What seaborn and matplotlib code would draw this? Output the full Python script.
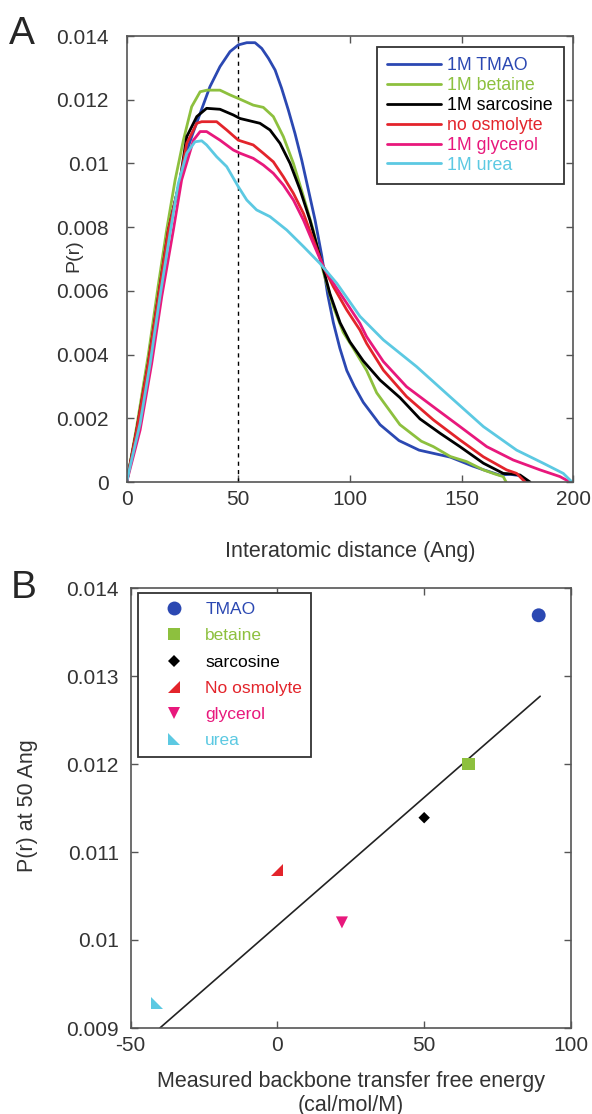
import numpy as np
import pandas as pd
import matplotlib
matplotlib.use("Agg")
import matplotlib.pyplot as plt
import seaborn as sns

# --- panel A: P(r) curves (x in Ang, y = P(r)) ---
tmao_r = [0, 4.5, 9.7, 14.2, 18.7, 23.9, 27.6, 29.1, 32.9, 37.3, 41.8, 46.3, 50, 53.8, 57.5, 60.5,
          63.5, 66.5, 69.4, 72.4, 75.4, 78.4, 81.4, 84.4, 87.4, 90, 92.6, 95.5, 98.6, 102, 106,
          113.5, 122, 131, 145, 155, 160, 167, 172, 176, 179]
tmao_p = [0, 0.00163, 0.00372, 0.00582, 0.00791, 0.00948, 0.01053, 0.01084, 0.01157, 0.01241,
          0.01304, 0.01351, 0.01372, 0.01379, 0.01379, 0.01361, 0.0133, 0.01293, 0.01236, 0.01168,
          0.01094, 0.01011, 0.00917, 0.00822, 0.0071, 0.0059, 0.0050, 0.0042, 0.0035, 0.0030,
          0.0025, 0.0018, 0.0013, 0.0010, 0.00078, 0.0005, 0.00038, 0.00022, 0.00024, 0.0002, 0]

betaine_r = [0, 4.5, 9.7, 14.2, 17.9, 21.7, 25.4, 29.1, 32.9, 36, 41.8, 46.3, 50, 56.7, 61.2, 65.7,
             70.2, 74.7, 79.2, 83.6, 88.1, 92.6, 97, 101.5, 107.5, 112, 122.4, 132, 137.4, 145,
             152.3, 159.8, 165, 168.7, 170]
betaine_p = [0, 0.00175, 0.0040, 0.0062, 0.00791, 0.00948, 0.01073, 0.01178, 0.01225, 0.0123,
             0.0123, 0.01215, 0.01204, 0.01183, 0.01176, 0.01147, 0.01084, 0.0100, 0.00896, 0.0079,
             0.0066, 0.0055, 0.0047, 0.0042, 0.0035, 0.0028, 0.00180, 0.00128, 0.00111, 0.0008,
             0.00064, 0.00038, 0.00025, 0.00017, 0]

sarcosine_r = [0, 4.5, 9.7, 14.2, 18.7, 23.9, 26.9, 31.4, 35.8, 41.8, 47.8, 50.8, 53.8, 59.7, 64.2,
               68.7, 73.2, 77.7, 82.1, 86.6, 91.1, 95.6, 100, 106, 113.5, 122.4, 131.4, 140.4,
               149.3, 159.8, 168.7, 173, 176.2, 180.7]
sarcosine_p = [0, 0.00163, 0.00372, 0.00582, 0.00791, 0.00948, 0.01084, 0.01147, 0.01173, 0.0117,
               0.01152, 0.01141, 0.01136, 0.01126, 0.01105, 0.01063, 0.0100, 0.00917, 0.00822,
               0.00707, 0.0059, 0.0050, 0.0044, 0.0038, 0.0032, 0.00265, 0.00198, 0.00153,
               0.00111, 0.00059, 0.00027, 0.00025, 0.00022, 0]

noosm_r = [0, 4.5, 9.7, 14.2, 18.7, 23.9, 26.9, 31.4, 33.6, 40.3, 44.8, 50, 56.7, 61.2, 65.7, 70.2,
           74.7, 79.2, 83.6, 88.1, 92.6, 98.6, 104.5, 107.5, 115, 125.4, 137.4, 149.3, 159.8,
           170.2, 174.7, 178.5]
noosm_p = [0, 0.00163, 0.00372, 0.00582, 0.00791, 0.00948, 0.01063, 0.01126, 0.01131, 0.01131,
           0.01105, 0.01073, 0.01058, 0.01032, 0.01005, 0.00958, 0.00906, 0.00843, 0.0076, 0.00676,
           0.00613, 0.0054, 0.00477, 0.00435, 0.00351, 0.00268, 0.00195, 0.00132, 0.00079,
           0.00038, 0.00027, 0]

glycerol_r = [0, 6, 11.2, 15.7, 20.9, 24.6, 29.9, 32.9, 35.8, 41.8, 47.8, 50.8, 56.7, 61.2, 65.7,
              70.2, 74.7, 79.2, 83.6, 88.1, 92.6, 98.6, 104.5, 107.5, 115, 125.4, 137.4, 149.3,
              161.3, 173.2, 185.2, 194.1, 198.6]
glycerol_p = [0, 0.00163, 0.00372, 0.00582, 0.00791, 0.00948, 0.01073, 0.011, 0.011, 0.01073,
              0.01042, 0.01032, 0.01016, 0.00995, 0.00969, 0.00932, 0.00885, 0.00822, 0.00749,
              0.00676, 0.00624, 0.00561, 0.00498, 0.00456, 0.00378, 0.00299, 0.00236, 0.00174,
              0.00111, 0.00069, 0.00038, 0.00017, 0]

urea_r = [0, 1.5, 6, 10.5, 14.9, 19.4, 23.1, 26.9, 30.6, 33.6, 35.8, 40.3, 44.8, 50, 53.8, 58.2,
          64.2, 71.7, 79.2, 86.6, 94.1, 104.5, 115, 129.9, 144.8, 159.8, 174.7, 186.6, 195.6, 199.5]
urea_p = [0, 0.00048, 0.00184, 0.00372, 0.00582, 0.0078, 0.00937, 0.01032, 0.01068, 0.01071,
          0.01058, 0.01021, 0.0099, 0.00927, 0.00885, 0.00854, 0.00833, 0.00791, 0.00739, 0.00686,
          0.00624, 0.0052, 0.00446, 0.00362, 0.00268, 0.00174, 0.001, 0.00059, 0.00027, 0]

curve_names = ["1M TMAO", "1M betaine", "1M sarcosine", "no osmolyte", "1M glycerol", "1M urea"]
curve_r = [tmao_r, betaine_r, sarcosine_r, noosm_r, glycerol_r, urea_r]
curve_p = [tmao_p, betaine_p, sarcosine_p, noosm_p, glycerol_p, urea_p]

# --- panel B: P(r) at 50 Ang vs transfer free energy ---
solvents = ["TMAO", "betaine", "sarcosine", "No osmolyte", "glycerol", "urea"]
transfer_energy = [89, 65, 50, 0, 22, -41]
p_at_50 = [0.01369, 0.0120, 0.01139, 0.01079, 0.0102, 0.00928]
fit_x = [-40, 89.5]
fit_y = [0.00900, 0.01277]

colors = ["#2b48b2", "#8dc03e", "#000000", "#e3242b", "#e8187c", "#5cc9e2"]

sns.set_style("white")
plt.rcParams['font.family'] = ['Liberation Sans', 'DejaVu Sans']
plt.rcParams['axes.unicode_minus'] = False
grey = "#555555"
txt = "#333333"

fig = plt.figure(figsize=(5.92, 11.14), dpi=100)
axA = fig.add_axes([126.7 / 592, 1 - 482 / 1114, 446.4 / 592, 446 / 1114])
axB = fig.add_axes([130.5 / 592, 1 - 1028 / 1114, 440.5 / 592, 440 / 1114])

# panel A
df = pd.concat([pd.DataFrame({"r": r, "P": p, "solvent": n})
                for n, r, p in zip(curve_names, curve_r, curve_p)], ignore_index=True)
axA.axvline(50, color="k", ls=(0, (3, 3)), lw=1.0, zorder=1)
sns.lineplot(data=df, x="r", y="P", hue="solvent", hue_order=curve_names,
             palette=dict(zip(curve_names, colors)), estimator=None, sort=False,
             lw=2.0, ax=axA)
axA.set_xlim(0, 200)
axA.set_ylim(0, 0.014)
axA.set_xticks([0, 50, 100, 150, 200])
axA.set_yticks(np.arange(0, 0.0141, 0.002))
axA.set_yticklabels(["0", "0.002", "0.004", "0.006", "0.008", "0.01", "0.012", "0.014"])
axA.set_xlabel("Interatomic distance (Ang)", fontsize=15.5, color=txt, labelpad=23)
axA.set_ylabel("P(r)", fontsize=14, color=txt)
axA.yaxis.set_label_coords(-0.1, 0.508)

h, l = axA.get_legend_handles_labels()
legA = axA.legend(h, l, loc="upper left", bbox_to_anchor=(0.56, 0.976), borderaxespad=0,
                  fontsize=12.8, frameon=True, fancybox=False, edgecolor="#333333",
                  framealpha=1, handlelength=3.0, handletextpad=0.37, labelspacing=0.16,
                  borderpad=0.6)
legA.get_frame().set_linewidth(1.3)
for t, c in zip(legA.get_texts(), colors):
    t.set_color(c)

# panel B
dfB = pd.DataFrame({"energy": transfer_energy, "P50": p_at_50, "solvent": solvents})
markers = {"TMAO": "o", "betaine": "s", "sarcosine": "D",
           "No osmolyte": [(-1, -1), (1, -1), (1, 1)], "glycerol": "v",
           "urea": [(-1, 1), (-1, -1), (1, -1)]}
sizes = {"TMAO": 100, "betaine": 85, "sarcosine": 34, "No osmolyte": 75, "glycerol": 75, "urea": 75}
sns.lineplot(x=fit_x, y=fit_y, color="#222222", lw=1.2, ax=axB)
sns.scatterplot(data=dfB, x="energy", y="P50", hue="solvent", style="solvent", size="solvent",
                hue_order=solvents, style_order=solvents, size_order=solvents,
                palette=dict(zip(solvents, colors)), markers=markers, sizes=sizes,
                linewidth=0, ax=axB, zorder=3)
axB.set_xlim(-50, 100)
axB.set_ylim(0.009, 0.014)
axB.set_xticks([-50, 0, 50, 100])
axB.set_yticks([0.009, 0.010, 0.011, 0.012, 0.013, 0.014])
axB.set_yticklabels(["0.009", "0.01", "0.011", "0.012", "0.013", "0.014"])
axB.set_xlabel("Measured backbone transfer free energy\n(cal/mol/M)", fontsize=15.5,
               color=txt, labelpad=11, linespacing=1.2)
axB.set_ylabel("P(r) at 50 Ang", fontsize=15.5, color=txt)
axB.yaxis.set_label_coords(-0.21, 0.506)

h, l = axB.get_legend_handles_labels()
legB = axB.legend(h, l, loc="upper left", bbox_to_anchor=(0.016, 0.988), borderaxespad=0,
                  fontsize=12.5, frameon=True, fancybox=False, edgecolor="#333333",
                  framealpha=1, handlelength=3.2, handletextpad=0.2, labelspacing=0.64,
                  borderpad=0.5)
legB.get_frame().set_linewidth(1.3)
for t, c in zip(legB.get_texts(), colors):
    t.set_color(c)

for ax, ypad in [(axA, 13), (axB, 8.5)]:
    for s in ax.spines.values():
        s.set_color(grey)
        s.set_linewidth(1.2)
        s.set_visible(True)
    ax.tick_params(direction="in", length=5, width=1, colors=grey, labelcolor=txt,
                   labelsize=15, top=True, right=True, bottom=True, left=True)
    ax.tick_params(axis="x", pad=6)
    ax.tick_params(axis="y", pad=ypad)

fig.text(9 / 592, 1 - 44 / 1114, "A", fontsize=28, va="baseline", ha="left")
fig.text(11 / 592, 1 - 598 / 1114, "B", fontsize=28, va="baseline", ha="left")

fig.savefig("out.png", dpi=100)
